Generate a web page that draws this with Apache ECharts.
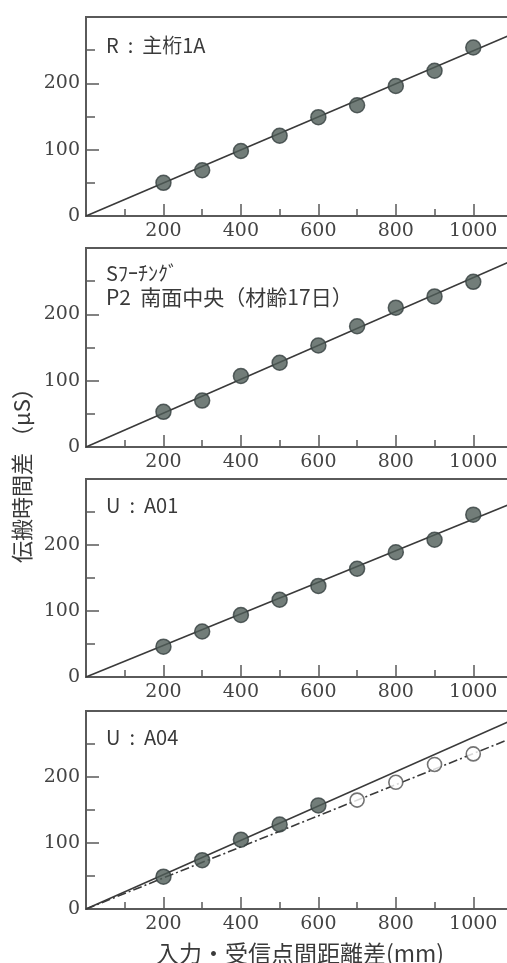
<!DOCTYPE html>
<html>
<head>
<meta charset="utf-8">
<script src="https://cdn.jsdelivr.net/npm/echarts@6/dist/echarts.min.js"></script>
<style>
html,body{margin:0;padding:0;background:#fff;}
#chart{width:507px;height:963px;}
</style>
</head>
<body>
<div id="chart"></div>
<script>
// ---- data ----
const distances = [200, 300, 400, 500, 600, 700, 800, 900, 1000];
const panelNames = ['R  :  主桁1A', 'Sﾌｰﾁﾝｸﾞ\nP2  南面中央（材齢17日）', 'U  :  A01', 'U  :  A04'];
const seriesR = [50, 69, 98, 121, 149, 167, 196, 219, 254];
const seriesS = [53, 70, 107, 127, 153, 182, 210, 227, 249];
const seriesU1 = [46, 69, 94, 117, 138, 164, 189, 208, 246];
const distancesU4Filled = [200, 300, 400, 500, 600];
const seriesU4Filled = [49, 74, 105, 128, 157];
const distancesU4Open = [700, 800, 900, 1000];
const seriesU4Open = [165, 192, 219, 235];
// fitted lines: [x, y] end points
const fitR = [[0, 0], [1100, 274]];
const fitS = [[0, 0], [1100, 281]];
const fitU1 = [[0, 0], [1100, 263]];
const fitU4 = [[0, 0], [1100, 286]];
const fitU4b = [[0, 0], [1100, 259]];
const xTickLabels = [200, 400, 600, 800, 1000];
const yTickLabels = [0, 100, 200];
const yTitle = '伝搬時間差 （μS）';
const xTitle = '入力・受信点間距離差(mm)';

const pair = (xs, ys) => xs.map((x, i) => [x, ys[i]]);

const panels = [
  { top: 17, height: 199, filled: pair(distances, seriesR), fits: [fitR] },
  { top: 248, height: 199, filled: pair(distances, seriesS), fits: [fitS] },
  { top: 479, height: 198, filled: pair(distances, seriesU1), fits: [fitU1] },
  { top: 711, height: 198, filled: pair(distancesU4Filled, seriesU4Filled), open: pair(distancesU4Open, seriesU4Open), fits: [fitU4, fitU4b] }
];
const labelY = [45, null, 505, 737];

const axisColor = '#5a5a5a';
const tickFont = { fontFamily: 'DejaVu Serif', fontSize: 19, color: '#444' };

const grids = [], xAxes = [], yAxes = [], series = [], graphics = [];
panels.forEach((p, i) => {
  grids.push({ left: 86, width: 426, top: p.top, height: p.height, outerBoundsMode: 'none', containLabel: false,
    show: true, borderColor: axisColor, borderWidth: 2, backgroundColor: 'transparent' });
  // primary x axis: minor ticks every 100
  xAxes.push({ type: 'value', gridIndex: i, min: 0, max: 1100, interval: 100,
    axisLine: { show: true, lineStyle: { color: axisColor, width: 2 } },
    axisTick: { show: true, inside: true, length: 7, lineStyle: { color: axisColor, width: 1.5 } },
    axisLabel: { show: false }, splitLine: { show: false } });
  // secondary x axis: major ticks + labels every 200
  xAxes.push({ type: 'value', gridIndex: i, min: 0, max: 1100, interval: 200, position: 'bottom',
    axisLine: { show: false },
    axisTick: { show: true, inside: true, length: 12, lineStyle: { color: axisColor, width: 1.5 } },
    axisLabel: { show: true, margin: 6, ...tickFont, formatter: v => xTickLabels.includes(v) ? String(v) : '' },
    splitLine: { show: false } });
  yAxes.push({ type: 'value', gridIndex: i, min: 0, max: 300, interval: 50,
    axisLine: { show: true, lineStyle: { color: axisColor, width: 2 } },
    axisTick: { show: true, inside: true, length: 9, lineStyle: { color: axisColor, width: 1.5 } },
    axisLabel: { show: false }, splitLine: { show: false } });
  yAxes.push({ type: 'value', gridIndex: i, min: 0, max: 300, interval: 100, position: 'left',
    axisLine: { show: false },
    axisTick: { show: true, inside: true, length: 13, lineStyle: { color: axisColor, width: 1.5 } },
    axisLabel: { show: true, margin: 6, ...tickFont, formatter: v => yTickLabels.includes(v) ? String(v) : '' },
    splitLine: { show: false } });

  const xi = i * 2, yi = i * 2;
  p.fits.forEach((f, k) => {
    series.push({ type: 'line', xAxisIndex: xi, yAxisIndex: yi, data: f, symbol: 'none', silent: true,
      lineStyle: { color: '#3a3a3a', width: 1.6, type: k === 0 ? 'solid' : [9, 3, 2, 3] }, z: 2 });
  });
  series.push({ type: 'scatter', xAxisIndex: xi, yAxisIndex: yi, data: p.filled, symbol: 'circle', symbolSize: 15,
    itemStyle: { color: '#4f5d58', borderColor: '#364040', borderWidth: 1.5 }, z: 3 });
  if (p.open) {
    series.push({ type: 'scatter', xAxisIndex: xi, yAxisIndex: yi, data: p.open, symbol: 'circle', symbolSize: 14,
      itemStyle: { color: '#ffffff', borderColor: '#505050', borderWidth: 1.6 }, z: 3 });
  }
});

// panel labels
[0, 2, 3].forEach(i => {
  graphics.push({ type: 'text', x: 106, y: labelY[i], z: 10,
    style: { text: panelNames[i], font: '20px "Noto Sans CJK JP"', fill: '#3a3a3a', verticalAlign: 'middle' } });
});
const s2 = panelNames[1].split('\n');
graphics.push({ type: 'text', x: 106, y: 273, z: 10, style: { text: s2[0], font: '20px "Noto Sans CJK JP"', fill: '#3a3a3a', verticalAlign: 'middle' } });
graphics.push({ type: 'text', x: 106, y: 297, z: 10, style: { text: s2[1], font: '21px "Noto Sans CJK JP"', fill: '#3a3a3a', verticalAlign: 'middle' } });

// axis titles
graphics.push({ type: 'text', x: 22, y: 470, rotation: Math.PI / 2, z: 10,
  style: { text: yTitle, font: '22px "Noto Sans CJK JP"', fill: '#3a3a3a', align: 'center', verticalAlign: 'middle' } });
graphics.push({ type: 'text', x: 300, y: 953, z: 10,
  style: { text: xTitle, font: '23px "Noto Sans CJK JP"', fill: '#3a3a3a', align: 'center', verticalAlign: 'middle' } });

const chart = echarts.init(document.getElementById('chart'), null, { renderer: 'canvas' });
chart.setOption({
  animation: false,
  backgroundColor: '#ffffff',
  grid: grids,
  xAxis: xAxes,
  yAxis: yAxes,
  series: series,
  graphic: graphics
});
</script>
</body>
</html>
